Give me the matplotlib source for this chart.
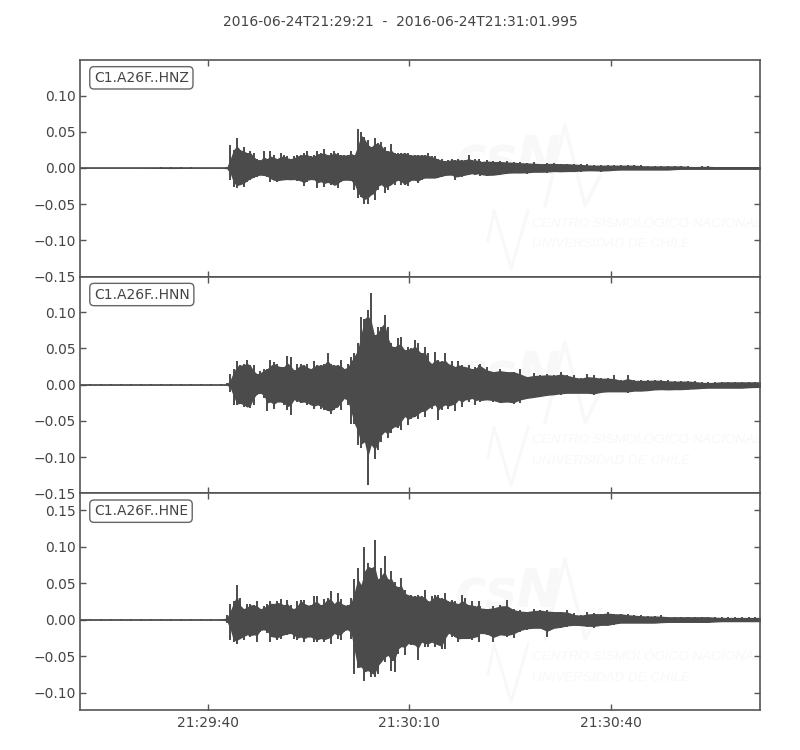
import numpy as np
import matplotlib
matplotlib.use("Agg")
import matplotlib.pyplot as plt

TITLE = "2016-06-24T21:29:21  -  2016-06-24T21:31:01.995"
LABELS = ["C1.A26F..HNZ", "C1.A26F..HNN", "C1.A26F..HNE"]
XTICKS = [19, 49, 79]
XLABELS = ["21:29:40", "21:30:10", "21:30:40"]
XLIM = (-0.06, 101.2)
YLIMS = [(-0.149, 0.149), (-0.149, 0.149), (-0.124, 0.173)]
YTICKS = [[-0.15, -0.10, -0.05, 0.0, 0.05, 0.10],
          [-0.15, -0.10, -0.05, 0.0, 0.05, 0.10],
          [-0.10, -0.05, 0.0, 0.05, 0.10, 0.15]]

# Time samples (seconds after the start)
t_pre = np.arange(0, 21.5, 1.5)
t_main = 21.8 + 0.5 * np.arange(76)
t_tail = 59.5 + 1.0 * np.arange(43)

# Envelope values, in thousandths
pre_z_up = [0.4, 0.4, 0.4, 0.4, 0.4, 0.4, 0.5, 0.6, 0.8, 0.9, 0.8, 0.7, 0.5, 0.5, 0.5]
pre_z_lo = [-0.4, -0.4, -0.4, -0.4, -0.4, -0.4, -0.5, -0.6, -0.8, -0.9, -0.8, -0.7, -0.5, -0.5, -0.5]
pre_n_up = [0.5] * 15
pre_n_lo = [-0.5] * 15
pre_e_up = [0.6, 0.5, 0.6, 0.5, 0.6, 0.5, 0.6, 0.5, 0.6, 0.5, 0.6, 0.5, 0.6, 0.5, 0.6]
pre_e_lo = [-0.6, -0.5, -0.6, -0.5, -0.6, -0.5, -0.6, -0.5, -0.6, -0.5, -0.6, -0.5, -0.6, -0.5, -0.6]

z_up = [2, 32, 25, 41, 25, 29, 21, 23, 21, 13, 11, 23, 13, 23, 18, 13, 21, 18, 16, 13,
        16, 18, 18, 20, 23, 16, 18, 23, 20, 26, 18, 20, 24, 20, 18, 18, 18, 24, 18, 54,
        50, 43, 39, 29, 42, 34, 36, 29, 23, 33, 20, 20, 21, 21, 21, 18, 18, 18, 18, 18,
        20, 16, 16, 13, 12, 10, 11, 13, 11, 12, 11, 11, 18, 11, 12, 12]
z_lo = [-2, -17, -26, -27, -23, -26, -19, -17, -14, -12, -10, -11, -12, -20, -17, -19, -17, -17, -16, -17,
        -16, -18, -18, -25, -19, -16, -17, -27, -19, -26, -20, -24, -24, -28, -19, -17, -17, -18, -30, -42,
        -40, -50, -50, -37, -44, -30, -23, -35, -30, -23, -23, -17, -23, -23, -25, -17, -17, -21, -17, -14,
        -14, -14, -14, -14, -12, -11, -10, -10, -17, -12, -12, -10, -10, -8, -10, -8]
z_up_tail = [9, 11, 9, 9, 9, 8, 8, 7, 8, 6, 7, 7, 6, 6, 6, 5, 5, 4, 4, 4, 4, 4,
             4, 4, 4, 3, 3, 3, 3, 3, 3, 3, 2, 3, 3, 2, 2, 2, 2, 2, 2, 2, 2]
z_lo_tail = [-11, -11, -10, -10, -8, -7, -7, -8, -6, -6, -7, -5, -6, -5, -5, -5, -4, -4, -5, -4, -4, -3,
             -3, -3, -3, -3, -3, -3, -3, -3, -2, -2, -2, -2, -2, -2, -2, -2, -2, -2, -2, -2, -2]

n_up = [2, 15, 22, 32, 27, 28, 34, 27, 27, 15, 19, 22, 22, 34, 31, 29, 25, 25, 40, 38,
        20, 29, 28, 27, 28, 22, 32, 27, 27, 29, 43, 29, 27, 27, 34, 22, 29, 38, 43, 57,
        94, 91, 103, 126, 68, 80, 80, 96, 80, 57, 52, 64, 66, 48, 52, 50, 61, 57, 43, 52,
        43, 29, 45, 34, 32, 43, 29, 32, 25, 32, 27, 25, 27, 22, 25, 27]
n_lo = [-1, -10, -28, -28, -26, -31, -31, -32, -28, -14, -12, -19, -37, -24, -33, -24, -24, -28, -35, -42,
        -21, -24, -26, -24, -28, -28, -33, -28, -33, -35, -37, -40, -35, -31, -35, -19, -28, -54, -54, -83,
        -88, -79, -138, -83, -102, -90, -79, -65, -74, -67, -58, -60, -63, -44, -56, -47, -44, -47, -37, -44,
        -33, -33, -28, -49, -35, -28, -33, -28, -37, -21, -31, -21, -24, -19, -28, -21]
n_up_tail = [29, 25, 18, 22, 18, 18, 22, 11, 16, 13, 15, 13, 18, 13, 13, 9, 15, 13, 9, 9, 13, 6,
             13, 6, 6, 6, 7, 6, 6, 5, 5, 5, 5, 4, 3, 4, 4, 4, 4, 4, 4, 4, 4]
n_lo_tail = [-24, -21, -24, -26, -24, -27, -25, -19, -19, -17, -16, -14, -14, -12, -12, -12, -12, -14, -12, -10, -10, -10,
             -12, -9, -9, -9, -8, -7, -8, -7, -7, -7, -6, -6, -5, -5, -5, -5, -5, -5, -5, -4, -4]

e_up = [6, 22, 25, 48, 29, 15, 21, 21, 20, 26, 15, 19, 21, 25, 22, 26, 28, 20, 27, 20,
        15, 26, 27, 27, 20, 20, 32, 32, 20, 28, 29, 39, 22, 36, 28, 20, 20, 29, 55, 71,
        48, 100, 78, 71, 109, 55, 71, 87, 55, 66, 52, 45, 57, 41, 34, 34, 32, 34, 32, 41,
        25, 32, 34, 34, 29, 36, 25, 27, 25, 22, 34, 29, 20, 25, 18, 25]
e_lo = [-5, -28, -31, -33, -26, -28, -21, -24, -21, -31, -17, -14, -19, -31, -24, -28, -26, -21, -21, -19,
        -26, -28, -24, -31, -24, -24, -31, -31, -26, -31, -26, -33, -19, -26, -28, -17, -14, -26, -74, -67,
        -65, -84, -70, -79, -79, -74, -58, -58, -49, -70, -72, -47, -37, -49, -33, -35, -35, -56, -31, -37,
        -37, -31, -37, -35, -40, -40, -19, -24, -24, -31, -26, -26, -26, -28, -24, -31]
e_up_tail = [18, 15, 18, 20, 27, 15, 13, 11, 15, 13, 13, 11, 11, 13, 9, 6, 11, 9, 8, 11, 8, 8,
             8, 6, 6, 5, 5, 6, 4, 4, 4, 4, 4, 4, 4, 4, 3, 3, 3, 3, 3, 3, 3]
e_lo_tail = [-19, -21, -31, -21, -24, -25, -17, -14, -12, -12, -24, -12, -12, -10, -8, -9, -10, -12, -8, -8, -8, -5,
             -5, -5, -5, -5, -5, -5, -4, -4, -4, -4, -4, -4, -4, -4, -3, -3, -3, -3, -3, -3, -3]

TRACES = [
    (pre_z_up + z_up + z_up_tail, pre_z_lo + z_lo + z_lo_tail),
    (pre_n_up + n_up + n_up_tail, pre_n_lo + n_lo + n_lo_tail),
    (pre_e_up + e_up + e_up_tail, pre_e_lo + e_lo + e_lo_tail),
]

DARK = "#4b4b4b"
TEXT = "#444444"
SPINE = "#555555"
MARK = "#f8f8f8"

plt.rcParams["font.family"] = "DejaVu Sans"
fig, axes = plt.subplots(3, 1, sharex=True, figsize=(8, 7.5), dpi=100)
fig.subplots_adjust(left=0.1, right=0.95, top=0.92, bottom=0.0533, hspace=0)
t = np.concatenate([t_pre, t_main, t_tail])


def core(a):
    """Solid body of the trace: the envelope pulled toward its lower neighbours."""
    s = np.sign(a)
    m = np.abs(a)
    left = np.r_[m[0], m[:-1]]
    right = np.r_[m[1:], m[-1]]
    return s * (0.35 * m + 0.65 * np.minimum.reduce([m, left, right]))


for ax, (up, lo), label, ylim, yt in zip(axes, TRACES, LABELS, YLIMS, YTICKS):
    up = np.asarray(up, float) / 1000.0
    lo = np.asarray(lo, float) / 1000.0

    # Faint logo behind the trace
    ax.text(0.55, 0.545, "csN", transform=ax.transAxes, fontsize=38, style="italic",
            weight="bold", color=MARK, ha="left", va="center", zorder=0)
    ax.plot([0.60, 0.609, 0.634, 0.659], [0.166, 0.305, 0.037, 0.305],
            transform=ax.transAxes, color=MARK, lw=2, zorder=0)
    ax.plot([0.684, 0.713, 0.743, 0.765], [0.328, 0.697, 0.328, 0.466],
            transform=ax.transAxes, color=MARK, lw=2.5, zorder=0)
    ax.text(0.665, 0.245, "CENTRO SISMOLÓGICO NACIONAL", transform=ax.transAxes, fontsize=9.7,
            family="Liberation Sans", style="italic", color=MARK, va="center", zorder=0)
    ax.text(0.665, 0.15, "UNIVERSIDAD DE CHILE", transform=ax.transAxes, fontsize=9.7,
            family="Liberation Sans", style="italic", color=MARK, va="center", zorder=0)

    ax.fill_between(t, core(lo), core(up), color=DARK, lw=0, zorder=2)
    ax.vlines(t, lo, up, color=DARK, lw=1.4, zorder=2)
    ax.axhline(0, color=DARK, lw=1.2, zorder=2)

    ax.set_xlim(*XLIM)
    ax.set_ylim(*ylim)
    ax.set_yticks(yt)
    ax.set_yticklabels([f"{v:.2f}".replace("-", "\u2212") for v in yt])
    ax.set_xticks(XTICKS)
    ax.tick_params(direction="in", top=True, right=True, length=4, width=1, color=SPINE,
                   labelcolor=TEXT, labelsize=10)
    ax.tick_params(axis="y", pad=3)
    ax.tick_params(axis="x", pad=4)
    for sp in ax.spines.values():
        sp.set_color(SPINE)
        sp.set_linewidth(1.2)
    ax.text(0.0205, 0.95, label, transform=ax.transAxes, fontsize=10, color=TEXT, va="top", ha="left",
            bbox=dict(boxstyle="round,pad=0.3", fc="white", ec="#666666", lw=1.0), zorder=5)

axes[-1].set_xticklabels(XLABELS)
fig.text(0.5, 0.971, TITLE, ha="center", va="center", fontsize=10, color=TEXT)
fig.savefig("out.png", dpi=100)
